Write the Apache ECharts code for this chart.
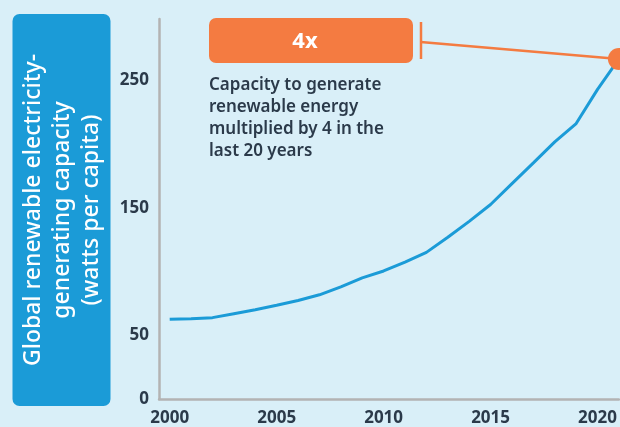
<!DOCTYPE html>
<html><head><meta charset="utf-8">
<script src="https://cdn.jsdelivr.net/npm/echarts@6/dist/echarts.min.js"></script>
<style>html,body{margin:0;padding:0;background:#d9eff8;}#c{width:620px;height:427px;}</style>
</head><body><div id="c"></div>
<script>
const years = [2000,2001,2002,2003,2004,2005,2006,2007,2008,2009,2010,2011,2012,2013,2014,2015,2016,2017,2018,2019,2020,2021];
const capacity = [62.5,63,63.8,66.9,70,73.5,77.3,81.7,88,95,100.4,107.4,115,126.8,139.3,152.5,168.9,185.2,201.6,216,242.8,266.7];
const xTickLabels = [2000,2005,2010,2015,2020];
const yTickLabels = [0,50,150,250];
const annotationAnchor = [2011.73, 280];
const titleLines = ['Global renewable electricity-','generating capacity','(watts per capita)'];
const badgeText = '4x';
const noteLines = ['Capacity to generate','renewable energy','multiplied by 4 in the','last 20 years'];

const dark = '#2b3a4a', blue = '#1b9bd7', orange = '#f47b41';
const FONT = '"Noto Sans", sans-serif';
const chart = echarts.init(document.getElementById('c'), null, {renderer:'canvas'});
const lastPt = [years[years.length-1], capacity[capacity.length-1]];
chart.setOption({
  backgroundColor:'#d9eff8',
  animation:false,
  grid:{left:159, right:1, top:19, bottom:25, containLabel:false},
  xAxis:{type:'value', min:1999.5, max:2021,
    axisLine:{show:true, lineStyle:{color:'#b3b3b3', width:2.5}},
    axisTick:{show:false}, splitLine:{show:false},
    axisLabel:{customValues:xTickLabels, color:dark, fontWeight:'bold', fontSize:17, fontFamily:FONT, margin:11, formatter:v=>String(v)}},
  yAxis:{type:'value', min:0, max:298,
    axisLine:{show:true, lineStyle:{color:'#b3b3b3', width:2.5}},
    axisTick:{show:false}, splitLine:{show:false},
    axisLabel:{customValues:yTickLabels, color:dark, fontWeight:'bold', fontSize:17, fontFamily:FONT, margin:10, formatter:v=>String(v)}},
  series:[
    {type:'line', data:years.map((y,i)=>[y,capacity[i]]), showSymbol:false, clip:false,
     lineStyle:{color:blue, width:3}, z:2},
    {type:'line', data:[annotationAnchor, lastPt], showSymbol:false, clip:false,
     lineStyle:{color:orange, width:2.5}, z:3},
    {type:'scatter', data:[lastPt], symbolSize:22, clip:false, itemStyle:{color:orange, opacity:1}, z:4}
  ],
  graphic:[
    {type:'rect', shape:{x:12.5, y:14, width:98, height:392, r:7}, style:{fill:blue}},
    {type:'text', x:62, y:210, rotation:Math.PI/2,
      style:{text:titleLines.join('\n'), fill:'#fff', font:'500 23px '+FONT, align:'center', verticalAlign:'middle', lineHeight:29}},
    {type:'rect', shape:{x:209, y:18, width:204, height:45, r:7}, style:{fill:orange}},
    {type:'text', x:305, y:41.5, style:{text:badgeText, fill:'#fff', font:'bold 22px '+FONT, align:'center', verticalAlign:'middle'}},
    {type:'line', shape:{x1:421, y1:22, x2:421, y2:59}, style:{stroke:orange, lineWidth:2.5}},
    {type:'text', x:209, y:74, style:{text:noteLines.join('\n'), fill:dark, font:'600 17px '+FONT, lineHeight:22, align:'left', verticalAlign:'top'}}
  ]
});
</script></body></html>
